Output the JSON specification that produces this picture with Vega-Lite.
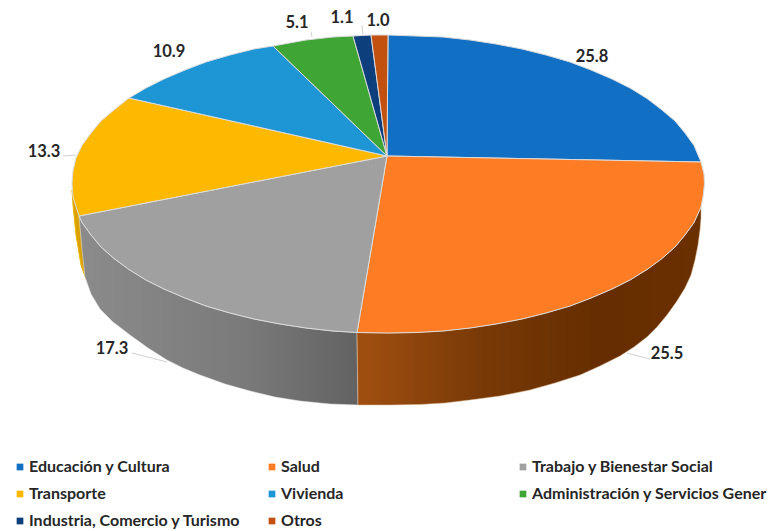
{"$schema":"https://vega.github.io/schema/vega-lite/v6.json","width":769,"height":531,"padding":0,"autosize":{"type":"none"},"background":"white","view":{"stroke":null},
"datasets":{
"top":[
{"s":"Educación y Cultura","i":0,"x":387,"y":156},{"s":"Educación y Cultura","i":1,"x":388,"y":35},{"s":"Educación y Cultura","i":2,"x":416,"y":36},{"s":"Educación y Cultura","i":3,"x":443,"y":37},{"s":"Educación y Cultura","i":4,"x":470,"y":40},{"s":"Educación y Cultura","i":5,"x":496,"y":44},{"s":"Educación y Cultura","i":6,"x":522,"y":49},{"s":"Educación y Cultura","i":7,"x":546,"y":55},{"s":"Educación y Cultura","i":8,"x":570,"y":62},{"s":"Educación y Cultura","i":9,"x":591,"y":70},{"s":"Educación y Cultura","i":10,"x":612,"y":79},{"s":"Educación y Cultura","i":11,"x":630,"y":88},{"s":"Educación y Cultura","i":12,"x":647,"y":98.5},{"s":"Educación y Cultura","i":13,"x":662,"y":110},{"s":"Educación y Cultura","i":14,"x":675,"y":121},{"s":"Educación y Cultura","i":15,"x":685,"y":133},{"s":"Educación y Cultura","i":16,"x":694,"y":145.5},{"s":"Educación y Cultura","i":17,"x":701,"y":162},{"s":"Educación y Cultura","i":18,"x":387,"y":156},
{"s":"Salud","i":0,"x":387,"y":156},{"s":"Salud","i":1,"x":701,"y":162},{"s":"Salud","i":2,"x":704,"y":174},{"s":"Salud","i":3,"x":704.5,"y":184},{"s":"Salud","i":4,"x":703,"y":197},{"s":"Salud","i":5,"x":701,"y":207},{"s":"Salud","i":6,"x":694,"y":222.5},{"s":"Salud","i":7,"x":685,"y":235},{"s":"Salud","i":8,"x":675,"y":247},{"s":"Salud","i":9,"x":662,"y":258.5},{"s":"Salud","i":10,"x":647,"y":269.5},{"s":"Salud","i":11,"x":630,"y":280},{"s":"Salud","i":12,"x":612,"y":289},{"s":"Salud","i":13,"x":591,"y":298},{"s":"Salud","i":14,"x":570,"y":306},{"s":"Salud","i":15,"x":546,"y":313},{"s":"Salud","i":16,"x":522,"y":319},{"s":"Salud","i":17,"x":496,"y":324},{"s":"Salud","i":18,"x":470,"y":328},{"s":"Salud","i":19,"x":443,"y":331},{"s":"Salud","i":20,"x":416,"y":332.5},{"s":"Salud","i":21,"x":388,"y":333},{"s":"Salud","i":22,"x":357,"y":332.5},{"s":"Salud","i":23,"x":387,"y":156},
{"s":"Trabajo y Bienestar Social","i":0,"x":387,"y":156},{"s":"Trabajo y Bienestar Social","i":1,"x":357,"y":332.5},{"s":"Trabajo y Bienestar Social","i":2,"x":333,"y":331},{"s":"Trabajo y Bienestar Social","i":3,"x":306,"y":328},{"s":"Trabajo y Bienestar Social","i":4,"x":280,"y":324},{"s":"Trabajo y Bienestar Social","i":5,"x":254,"y":319},{"s":"Trabajo y Bienestar Social","i":6,"x":230,"y":313},{"s":"Trabajo y Bienestar Social","i":7,"x":206,"y":306},{"s":"Trabajo y Bienestar Social","i":8,"x":185,"y":298},{"s":"Trabajo y Bienestar Social","i":9,"x":164,"y":289},{"s":"Trabajo y Bienestar Social","i":10,"x":146,"y":280},{"s":"Trabajo y Bienestar Social","i":11,"x":129,"y":269.5},{"s":"Trabajo y Bienestar Social","i":12,"x":114,"y":258.5},{"s":"Trabajo y Bienestar Social","i":13,"x":101,"y":247},{"s":"Trabajo y Bienestar Social","i":14,"x":91,"y":235},{"s":"Trabajo y Bienestar Social","i":15,"x":82,"y":222.5},{"s":"Trabajo y Bienestar Social","i":16,"x":79,"y":216},{"s":"Trabajo y Bienestar Social","i":17,"x":387,"y":156},
{"s":"Transporte","i":0,"x":387,"y":156},{"s":"Transporte","i":1,"x":79,"y":216},{"s":"Transporte","i":2,"x":73,"y":197},{"s":"Transporte","i":3,"x":72,"y":184},{"s":"Transporte","i":4,"x":73,"y":171},{"s":"Transporte","i":5,"x":76,"y":158},{"s":"Transporte","i":6,"x":82,"y":145.5},{"s":"Transporte","i":7,"x":91,"y":133},{"s":"Transporte","i":8,"x":101,"y":121},{"s":"Transporte","i":9,"x":114,"y":110},{"s":"Transporte","i":10,"x":129,"y":98},{"s":"Transporte","i":11,"x":387,"y":156},
{"s":"Vivienda","i":0,"x":387,"y":156},{"s":"Vivienda","i":1,"x":129,"y":98},{"s":"Vivienda","i":2,"x":146,"y":88},{"s":"Vivienda","i":3,"x":164,"y":79},{"s":"Vivienda","i":4,"x":185,"y":70},{"s":"Vivienda","i":5,"x":206,"y":62},{"s":"Vivienda","i":6,"x":230,"y":55},{"s":"Vivienda","i":7,"x":254,"y":49},{"s":"Vivienda","i":8,"x":273,"y":46},{"s":"Vivienda","i":9,"x":387,"y":156},
{"s":"Administración y Servicios Gener","i":0,"x":387,"y":156},{"s":"Administración y Servicios Gener","i":1,"x":273,"y":46},{"s":"Administración y Servicios Gener","i":2,"x":306,"y":40},{"s":"Administración y Servicios Gener","i":3,"x":333,"y":37},{"s":"Administración y Servicios Gener","i":4,"x":353,"y":36},{"s":"Administración y Servicios Gener","i":5,"x":387,"y":156},
{"s":"Industria, Comercio y Turismo","i":0,"x":387,"y":156},{"s":"Industria, Comercio y Turismo","i":1,"x":353,"y":36},{"s":"Industria, Comercio y Turismo","i":2,"x":371,"y":35},{"s":"Industria, Comercio y Turismo","i":3,"x":387,"y":156},
{"s":"Otros","i":0,"x":387,"y":156},{"s":"Otros","i":1,"x":371,"y":35},{"s":"Otros","i":2,"x":388,"y":35},{"s":"Otros","i":3,"x":387,"y":156}],
"wallO":[{"i":0,"x":357,"y":332.5},{"i":1,"x":388,"y":333},{"i":2,"x":416,"y":332.5},{"i":3,"x":443,"y":331},{"i":4,"x":470,"y":328},{"i":5,"x":496,"y":324},{"i":6,"x":522,"y":319},{"i":7,"x":546,"y":313},{"i":8,"x":570,"y":306},{"i":9,"x":591,"y":298},{"i":10,"x":612,"y":289},{"i":11,"x":630,"y":280},{"i":12,"x":647,"y":269.5},{"i":13,"x":662,"y":258.5},{"i":14,"x":675,"y":247},{"i":15,"x":685,"y":235},{"i":16,"x":694,"y":222.5},{"i":17,"x":701,"y":207},{"i":18,"x":701,"y":218},{"i":19,"x":700,"y":230},{"i":20,"x":698,"y":245},{"i":21,"x":695,"y":260},{"i":22,"x":691,"y":275},{"i":23,"x":685,"y":288},{"i":24,"x":677,"y":301},{"i":25,"x":667,"y":315},{"i":26,"x":657,"y":327},{"i":27,"x":647,"y":337},{"i":28,"x":634,"y":347},{"i":29,"x":620,"y":356},{"i":30,"x":600,"y":366},{"i":31,"x":580,"y":375},{"i":32,"x":555,"y":383},{"i":33,"x":530,"y":390},{"i":34,"x":500,"y":396},{"i":35,"x":470,"y":400},{"i":36,"x":445,"y":403},{"i":37,"x":420,"y":404.5},{"i":38,"x":390,"y":405},{"i":39,"x":358,"y":405},{"i":40,"x":357,"y":332.5}],
"wallG":[{"i":0,"x":79,"y":216},{"i":1,"x":82,"y":222.5},{"i":2,"x":91,"y":235},{"i":3,"x":101,"y":247},{"i":4,"x":114,"y":258.5},{"i":5,"x":129,"y":269.5},{"i":6,"x":146,"y":280},{"i":7,"x":164,"y":289},{"i":8,"x":185,"y":298},{"i":9,"x":206,"y":306},{"i":10,"x":230,"y":313},{"i":11,"x":254,"y":319},{"i":12,"x":280,"y":324},{"i":13,"x":306,"y":328},{"i":14,"x":333,"y":331},{"i":15,"x":357,"y":332.5},{"i":16,"x":358,"y":405},{"i":17,"x":330,"y":404},{"i":18,"x":300,"y":401},{"i":19,"x":275,"y":397},{"i":20,"x":250,"y":391},{"i":21,"x":225,"y":384},{"i":22,"x":200,"y":375},{"i":23,"x":183,"y":368},{"i":24,"x":167,"y":360},{"i":25,"x":148,"y":348},{"i":26,"x":130,"y":335},{"i":27,"x":113,"y":322},{"i":28,"x":100,"y":309},{"i":29,"x":91,"y":294},{"i":30,"x":85,"y":277},{"i":31,"x":82,"y":250},{"i":32,"x":79,"y":216}],
"wallY":[{"i":0,"x":72,"y":190},{"i":1,"x":73,"y":205},{"i":2,"x":76,"y":235},{"i":3,"x":81,"y":265},{"i":4,"x":86,"y":279},{"i":5,"x":79,"y":216},{"i":6,"x":72,"y":190}],
"leaders":[{"k":"a","i":0,"x":63,"y":156},{"k":"a","i":1,"x":76,"y":155},{"k":"b","i":0,"x":132,"y":353},{"k":"b","i":1,"x":167,"y":362},{"k":"c","i":0,"x":627,"y":353},{"k":"c","i":1,"x":650,"y":359},{"k":"d","i":0,"x":311,"y":32},{"k":"d","i":1,"x":312,"y":37},{"k":"e","i":0,"x":362,"y":25},{"k":"e","i":1,"x":363,"y":35}],
"labels":[{"t":"25.8","x":592,"y":57},{"t":"25.5","x":667,"y":354},{"t":"17.3","x":112,"y":349},{"t":"13.3","x":44,"y":152},{"t":"10.9","x":169,"y":52},{"t":"5.1","x":297,"y":23},{"t":"1.1","x":342,"y":18},{"t":"1.0","x":378,"y":21}],
"legendRows":[{"s":"Educación y Cultura","x":20,"y":467},{"s":"Salud","x":272,"y":467},{"s":"Trabajo y Bienestar Social","x":523,"y":467},{"s":"Transporte","x":20,"y":494},{"s":"Vivienda","x":272,"y":494},{"s":"Administración y Servicios Gener","x":523,"y":494},{"s":"Industria, Comercio y Turismo","x":20,"y":521},{"s":"Otros","x":272,"y":521}]
},
"encoding":{"x":{"field":"x","type":"quantitative","scale":{"domain":[0,769],"nice":false,"zero":false},"axis":null},"y":{"field":"y","type":"quantitative","scale":{"domain":[531,0],"nice":false,"zero":false},"axis":null}},
"layer":[
{"data":{"name":"wallY"},"mark":{"type":"line","fill":"#d9a106","stroke":"#f0b400","strokeWidth":1},"encoding":{"order":{"field":"i"}}},
{"data":{"name":"wallG"},"mark":{"type":"line","stroke":"#e8e8e8","strokeWidth":0.5,"fill":{"gradient":"linear","x1":0,"y1":0,"x2":1,"y2":0,"stops":[{"offset":0,"color":"#8b8b8b"},{"offset":0.6,"color":"#7a7a7a"},{"offset":1,"color":"#626262"}]}},"encoding":{"order":{"field":"i"}}},
{"data":{"name":"wallO"},"mark":{"type":"line","stroke":"#e0c0a0","strokeWidth":0.5,"fill":{"gradient":"linear","x1":0,"y1":0,"x2":1,"y2":0,"stops":[{"offset":0,"color":"#a14f10"},{"offset":0.35,"color":"#7a3a07"},{"offset":0.7,"color":"#652d00"},{"offset":1,"color":"#6b3000"}]}},"encoding":{"order":{"field":"i"}}},
{"data":{"name":"top"},"mark":{"type":"line","filled":true,"stroke":"#dcdcdc","strokeWidth":1},"encoding":{"detail":{"field":"s"},"order":{"field":"i"},"fill":{"field":"s","type":"nominal","legend":null,"scale":{"domain":["Educación y Cultura","Salud","Trabajo y Bienestar Social","Transporte","Vivienda","Administración y Servicios Gener","Industria, Comercio y Turismo","Otros"],"range":["#1170c4","#fe7c24","#a0a0a0","#fdb900","#1e96d6","#3fa535","#0c3f7c","#c2500f"]}}}},
{"data":{"name":"leaders"},"mark":{"type":"line","stroke":"#bdbdbd","strokeWidth":0.7},"encoding":{"detail":{"field":"k"},"order":{"field":"i"}}},
{"data":{"name":"labels"},"mark":{"type":"text","font":"Lato","fontSize":16.5,"fontWeight":"bold","fill":"#262626","align":"center","baseline":"middle"},"encoding":{"text":{"field":"t"}}},
{"data":{"name":"legendRows"},"mark":{"type":"square","size":45,"opacity":1},"encoding":{"fill":{"field":"s","type":"nominal","legend":null}}},
{"data":{"name":"legendRows"},"mark":{"type":"text","font":"Lato","fontSize":16,"fontWeight":"bold","fill":"#262626","align":"left","baseline":"middle","dx":9},"encoding":{"text":{"field":"s"}}}
]}
